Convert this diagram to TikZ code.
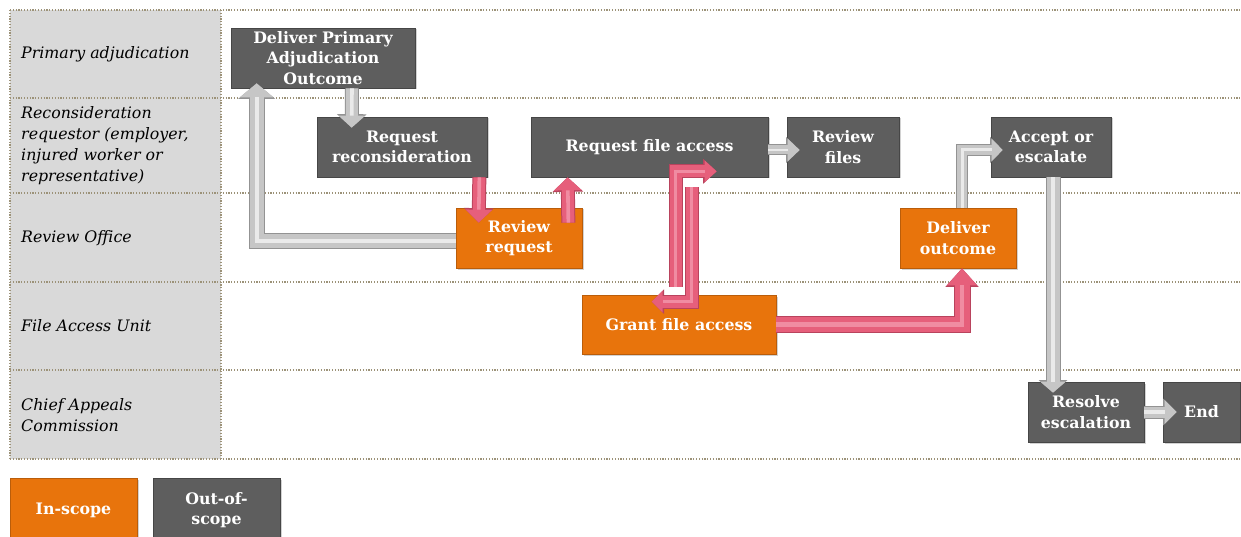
\documentclass[tikz,border=0pt]{standalone}
\usepackage{fontspec}
\setmainfont{DejaVu Serif}
\usetikzlibrary{arrows.meta,shadows,calc}

\definecolor{boxgray}{HTML}{5E5E5E}
\definecolor{boxorange}{HTML}{E8740C}
\definecolor{lanegray}{HTML}{D9D9D9}
\definecolor{laneline}{HTML}{9C9278}
\definecolor{pinkfill}{HTML}{E65F7B}
\definecolor{pinkedge}{HTML}{B9435D}
\definecolor{pinklight}{HTML}{F08CA2}
\definecolor{greyfill}{HTML}{C6C6C6}
\definecolor{greyedge}{HTML}{939393}
\definecolor{greylight}{HTML}{EAEAEA}

\tikzset{
  procbox/.style={rectangle, line width=0.7pt, text=white, align=center,
    inner sep=0pt, font=\bfseries\fontsize{15.8}{20.5}\selectfont,
    drop shadow={opacity=0.35, shadow xshift=1.5pt, shadow yshift=-1.5pt}},
  outbox/.style={procbox, fill=boxgray, draw=boxgray!75!black},
  inbox/.style={procbox, fill=boxorange, draw=boxorange!80!black},
  lanelabel/.style={anchor=west, align=left, inner sep=0pt,
    font=\itshape\fontsize{15.8}{21}\selectfont},
  gridline/.style={draw=laneline, line width=1.2pt, dash pattern=on 1.2pt off 1.6pt},
  % block arrows: an outline pass, the body, and a light ridge on the shaft
  blockarrow/.style n args={6}{
    preaction={draw=#2, line width=#3pt+2pt,
      -{Triangle[width=#4pt+3pt,length=#5pt+1.5pt]}},
    draw=#1, line width=#3pt, -{Triangle[width=#4pt,length=#5pt]},
    postaction={draw=#6, line width=#3pt*0.3, -, shorten >=#5pt}},
  pinkarrow/.style n args={3}{blockarrow={pinkfill}{pinkedge}{#1}{#2}{#3}{pinklight}},
  greyarrow/.style n args={3}{blockarrow={greyfill}{greyedge}{#1}{#2}{#3}{greylight}},
}

\begin{document}
\begin{tikzpicture}[x=1pt,y=-1pt]
\useasboundingbox (0,0) rectangle (1241,537);
\fill[white] (0,0) rectangle (1241,537);

% swimlane label column and grid
\fill[lanegray] (10,10) rectangle (221,459);
\foreach \yy in {10,98,193,282,370,459}
  \draw[gridline] (10,\yy) -- (1241,\yy);
\draw[gridline] (10,10) -- (10,459);
\draw[gridline] (221,10) -- (221,459);

\node[lanelabel] (lane1) at (21,54) {Primary adjudication};
\node[lanelabel] (lane2) at (21,146) {Reconsideration\\requestor (employer,\\injured worker or\\representative)};
\node[lanelabel] (lane3) at (21,238) {Review Office};
\node[lanelabel] (lane4) at (21,326) {File Access Unit};
\node[lanelabel] (lane5) at (21,415) {Chief Appeals\\Commission};

% process steps
\node[outbox, minimum width=184pt, minimum height=60pt] (dpa) at (323,58)
  {Deliver Primary\\Adjudication\\Outcome};
\node[outbox, minimum width=170pt, minimum height=60pt] (rr) at (402,147)
  {Request\\reconsideration};
\node[outbox, minimum width=237pt, minimum height=60pt] (rfa) at (649.5,147)
  {Request file access};
\node[outbox, minimum width=112pt, minimum height=60pt] (rf) at (843,147)
  {Review\\files};
\node[outbox, minimum width=120pt, minimum height=60pt] (ae) at (1051,147)
  {Accept or\\escalate};
\node[inbox, minimum width=126pt, minimum height=60pt] (rvr) at (519,238)
  {Review\\request};
\node[inbox, minimum width=116pt, minimum height=60pt] (dout) at (958,238)
  {Deliver\\outcome};
\node[inbox, minimum width=194pt, minimum height=59pt] (gfa) at (679,324.5)
  {Grant file access};
\node[outbox, minimum width=116pt, minimum height=60pt] (res) at (1086,412)
  {Resolve\\escalation};
\node[outbox, minimum width=77pt, minimum height=60pt] (endn) at (1201.5,412)
  {End};

% legend
\node[inbox, minimum width=127pt, minimum height=64pt] (legin) at (73.5,510)
  {In-scope};
\node[outbox, minimum width=127pt, minimum height=64pt] (legout) at (216.5,510)
  {Out-of-\\scope};

% connectors
\draw[greyarrow={12}{26}{12}] ($(dpa.south)+(29,0)$) -- ($(rr.north west)+(35,11)$);
\draw[greyarrow={14}{33}{14}] ($(rvr.west)+(0,3)$) -| ($(dpa.south west)+(26,-5)$);
\draw[pinkarrow={12}{26}{13}] ($(rr.south east)+(-8,0)$) -- ($(rvr.north west)+(23,15)$);
\draw[pinkarrow={12}{27}{13}] ($(rvr.north east)+(-14,15)$) -- ($(rfa.south west)+(37,0)$);
\draw[pinkarrow={12}{21}{11}] ($(rfa.south west)+(161,10)$) |- ($(gfa.north west)+(70,7)$);
\draw[pinkarrow={12}{21}{12}] ($(gfa.north west)+(94,-8)$) |- ($(rfa.south west)+(186,-6)$);
\draw[greyarrow={9}{22}{12}] ($(rfa.east)+(0,3)$) -- ($(rf.west)+(13,3)$);
\draw[pinkarrow={15}{29}{17}] (gfa.east) -| ($(dout.south)+(4,0)$);
\draw[greyarrow={10}{22}{11}] ($(dout.north)+(4,0)$) |- ($(ae.west)+(12,3)$);
\draw[greyarrow={13}{25}{11}] ($(ae.south)+(2,0)$) -- ($(res.north)+(-33,11)$);
\draw[greyarrow={11}{23}{12}] (res.east) -- ($(endn.west)+(14,0)$);
\end{tikzpicture}
\end{document}
